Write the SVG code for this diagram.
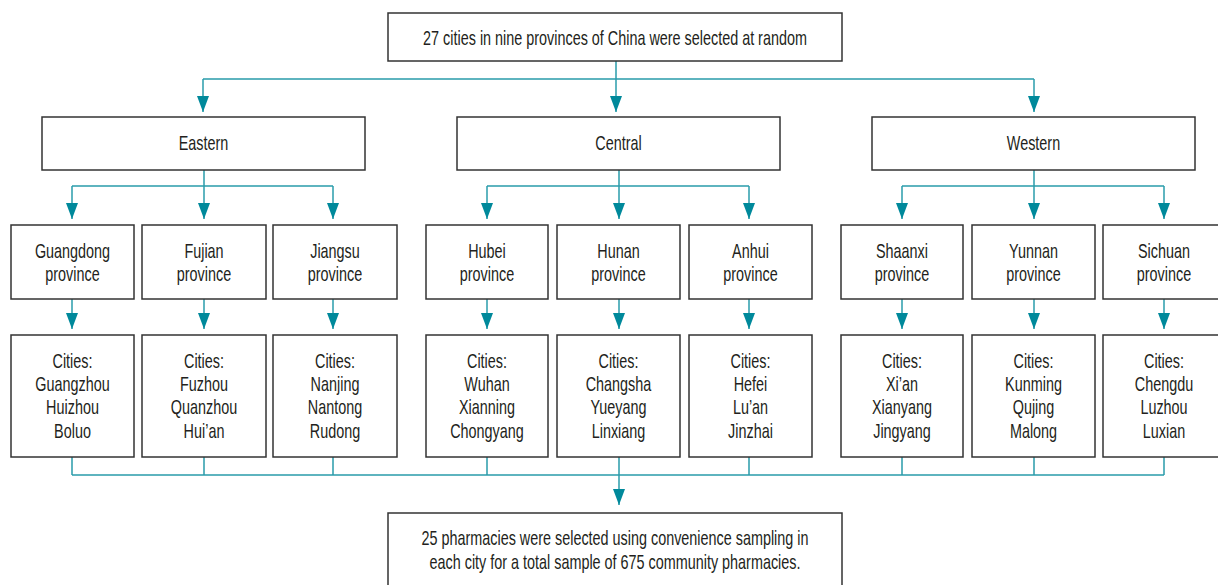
<svg xmlns="http://www.w3.org/2000/svg" width="1218" height="585" viewBox="0 0 1218 585">
<style>
.box{fill:#fff;stroke:#333;stroke-width:1.5}
.t{font-family:"Liberation Sans",Arial,sans-serif;font-size:20px;fill:#231f20;text-anchor:middle}
.c{fill:none;stroke:#2a9cab;stroke-width:1.5}
.a{fill:none;stroke:#2a9cab;stroke-width:1.5;marker-end:url(#arr)}
</style>
<defs>
<marker id="arr" markerUnits="userSpaceOnUse" markerWidth="16" markerHeight="12" refX="16" refY="6" orient="auto" viewBox="0 0 16 12">
<path d="M0,0 L16,6 L0,12 Z" fill="#00899b"/>
</marker>
</defs>
<rect width="1218" height="585" fill="#fff"/>
<g id="connectors">
<path class="c" d="M616,61 V79 M203,79 H1034"/>
<path class="a" d="M203,79 V112"/>
<path class="a" d="M616,79 V112"/>
<path class="a" d="M1034,79 V112"/>
<path class="c" d="M204,170 V186 M72,186 H333 M619,170 V186 M487,186 H749 M1034,170 V186 M902,186 H1164"/>
<path class="a" d="M72,186 V219"/><path class="a" d="M204,186 V219"/><path class="a" d="M333,186 V219"/>
<path class="a" d="M487,186 V219"/><path class="a" d="M619,186 V219"/><path class="a" d="M749,186 V219"/>
<path class="a" d="M902,186 V219"/><path class="a" d="M1034,186 V219"/><path class="a" d="M1164,186 V219"/>
<path class="a" d="M72,299 V329"/><path class="a" d="M204,299 V329"/><path class="a" d="M333,299 V329"/>
<path class="a" d="M487,299 V329"/><path class="a" d="M619,299 V329"/><path class="a" d="M749,299 V329"/>
<path class="a" d="M902,299 V329"/><path class="a" d="M1034,299 V329"/><path class="a" d="M1164,299 V329"/>
<path class="c" d="M72,457 V475 M204,457 V475 M333,457 V475 M487,457 V475 M619,457 V475 M749,457 V475 M902,457 V475 M1034,457 V475 M1164,457 V475 M72,475 H1164"/>
<path class="a" d="M619,475 V505"/>
</g>
<g id="top"><rect class="box" x="388" y="13" width="454" height="48"/><g transform="translate(615 0) scale(0.72 1)"><text class="t" y="45">27 cities in nine provinces of China were selected at random</text></g></g>
<g id="eastern"><rect class="box" x="42" y="117" width="323" height="53"/><g transform="translate(203.5 0) scale(0.72 1)"><text class="t" y="150">Eastern</text></g></g>
<g id="central"><rect class="box" x="457" y="117" width="323" height="53"/><g transform="translate(618.5 0) scale(0.72 1)"><text class="t" y="150">Central</text></g></g>
<g id="western"><rect class="box" x="872" y="117" width="323" height="53"/><g transform="translate(1033.5 0) scale(0.72 1)"><text class="t" y="150">Western</text></g></g>
<g id="guangdong"><rect class="box" x="11" y="225" width="123" height="74"/><g transform="translate(72.5 0) scale(0.72 1)"><text class="t" y="258">Guangdong</text><text class="t" y="281">province</text></g></g>
<g id="fujian"><rect class="box" x="142" y="225" width="124" height="74"/><g transform="translate(204 0) scale(0.72 1)"><text class="t" y="258">Fujian</text><text class="t" y="281">province</text></g></g>
<g id="jiangsu"><rect class="box" x="273" y="225" width="124" height="74"/><g transform="translate(335 0) scale(0.72 1)"><text class="t" y="258">Jiangsu</text><text class="t" y="281">province</text></g></g>
<g id="hubei"><rect class="box" x="426" y="225" width="122" height="74"/><g transform="translate(487 0) scale(0.72 1)"><text class="t" y="258">Hubei</text><text class="t" y="281">province</text></g></g>
<g id="hunan"><rect class="box" x="557" y="225" width="123" height="74"/><g transform="translate(618.5 0) scale(0.72 1)"><text class="t" y="258">Hunan</text><text class="t" y="281">province</text></g></g>
<g id="anhui"><rect class="box" x="689" y="225" width="123" height="74"/><g transform="translate(750.5 0) scale(0.72 1)"><text class="t" y="258">Anhui</text><text class="t" y="281">province</text></g></g>
<g id="shaanxi"><rect class="box" x="841" y="225" width="122" height="74"/><g transform="translate(902 0) scale(0.72 1)"><text class="t" y="258">Shaanxi</text><text class="t" y="281">province</text></g></g>
<g id="yunnan"><rect class="box" x="972" y="225" width="123" height="74"/><g transform="translate(1033.5 0) scale(0.72 1)"><text class="t" y="258">Yunnan</text><text class="t" y="281">province</text></g></g>
<g id="sichuan"><rect class="box" x="1103" y="225" width="123" height="74"/><g transform="translate(1164 0) scale(0.72 1)"><text class="t" y="258">Sichuan</text><text class="t" y="281">province</text></g></g>
<g id="cities-guangdong"><rect class="box" x="11" y="335" width="123" height="122"/><g transform="translate(72.5 0) scale(0.72 1)"><text class="t" y="368">Cities:</text><text class="t" y="391">Guangzhou</text><text class="t" y="414">Huizhou</text><text class="t" y="438">Boluo</text></g></g>
<g id="cities-fujian"><rect class="box" x="142" y="335" width="124" height="122"/><g transform="translate(204 0) scale(0.72 1)"><text class="t" y="368">Cities:</text><text class="t" y="391">Fuzhou</text><text class="t" y="414">Quanzhou</text><text class="t" y="438">Hui’an</text></g></g>
<g id="cities-jiangsu"><rect class="box" x="273" y="335" width="124" height="122"/><g transform="translate(335 0) scale(0.72 1)"><text class="t" y="368">Cities:</text><text class="t" y="391">Nanjing</text><text class="t" y="414">Nantong</text><text class="t" y="438">Rudong</text></g></g>
<g id="cities-hubei"><rect class="box" x="426" y="335" width="122" height="122"/><g transform="translate(487 0) scale(0.72 1)"><text class="t" y="368">Cities:</text><text class="t" y="391">Wuhan</text><text class="t" y="414">Xianning</text><text class="t" y="438">Chongyang</text></g></g>
<g id="cities-hunan"><rect class="box" x="557" y="335" width="123" height="122"/><g transform="translate(618.5 0) scale(0.72 1)"><text class="t" y="368">Cities:</text><text class="t" y="391">Changsha</text><text class="t" y="414">Yueyang</text><text class="t" y="438">Linxiang</text></g></g>
<g id="cities-anhui"><rect class="box" x="689" y="335" width="123" height="122"/><g transform="translate(750.5 0) scale(0.72 1)"><text class="t" y="368">Cities:</text><text class="t" y="391">Hefei</text><text class="t" y="414">Lu’an</text><text class="t" y="438">Jinzhai</text></g></g>
<g id="cities-shaanxi"><rect class="box" x="841" y="335" width="122" height="122"/><g transform="translate(902 0) scale(0.72 1)"><text class="t" y="368">Cities:</text><text class="t" y="391">Xi’an</text><text class="t" y="414">Xianyang</text><text class="t" y="438">Jingyang</text></g></g>
<g id="cities-yunnan"><rect class="box" x="972" y="335" width="123" height="122"/><g transform="translate(1033.5 0) scale(0.72 1)"><text class="t" y="368">Cities:</text><text class="t" y="391">Kunming</text><text class="t" y="414">Qujing</text><text class="t" y="438">Malong</text></g></g>
<g id="cities-sichuan"><rect class="box" x="1103" y="335" width="123" height="122"/><g transform="translate(1164 0) scale(0.72 1)"><text class="t" y="368">Cities:</text><text class="t" y="391">Chengdu</text><text class="t" y="414">Luzhou</text><text class="t" y="438">Luxian</text></g></g>
<g id="bottom"><rect class="box" x="388" y="513" width="454" height="80"/><g transform="translate(615 0) scale(0.72 1)"><text class="t" y="545">25 pharmacies were selected using convenience sampling in</text><text class="t" y="569">each city for a total sample of 675 community pharmacies.</text></g></g>
</svg>
